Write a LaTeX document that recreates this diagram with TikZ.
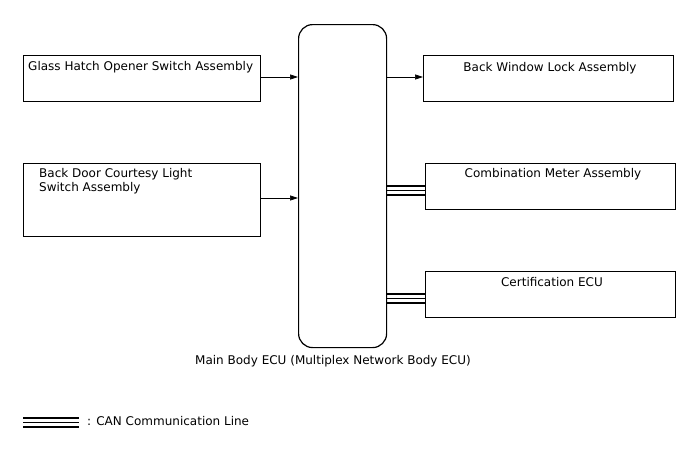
\documentclass[tikz,border=0pt]{standalone}
\usepackage{fontspec}
\setmainfont{DejaVu Sans}
\usetikzlibrary{arrows.meta,calc}
\begin{document}
\begin{tikzpicture}[x=1pt,y=-1pt,
  box/.style={draw,line width=1.2pt,rectangle,inner sep=0pt,anchor=north west},
  lbl/.style={inner sep=0pt,font=\fontsize{12}{14}\selectfont,align=left},
  sig/.style={line width=0.7pt,-{Triangle[length=8pt,width=5pt]}},
  canthick/.style={line width=2pt},
  canthin/.style={line width=1pt}]
\useasboundingbox (0,0) rectangle (688,463);
% ECU
\node[box,rounded corners=14pt,minimum width=88pt,minimum height=323pt] (ecu) at (298,24) {};
% left boxes
\node[box,minimum width=237pt,minimum height=46pt] (glass) at (23,55) {};
\node[lbl,anchor=west] (glasst) at (28,67) {Glass Hatch Opener Switch Assembly};
\node[box,minimum width=237pt,minimum height=73pt] (door) at (23,163) {};
\node[lbl,anchor=north west] (doort) at (39,168) {Back Door Courtesy Light\\Switch Assembly};
% right boxes
\node[box,minimum width=250pt,minimum height=46pt] (win) at (423,55) {};
\node[lbl] (wint) at (550,68) {Back Window Lock Assembly};
\node[box,minimum width=250pt,minimum height=46pt] (comb) at (425,163) {};
\node[lbl] (combt) at (553,174) {Combination Meter Assembly};
\node[box,minimum width=250pt,minimum height=46pt] (cert) at (425,271) {};
\node[lbl] (certt) at (552,282) {Certification ECU};
% arrows
\coordinate (y1) at (0,77);
\coordinate (y2) at (0,198);
\draw[sig] (glass.east |- y1) -- (ecu.west |- y1);
\draw[sig] (door.east |- y2) -- (ecu.west |- y2);
\draw[sig] (ecu.east |- y1) -- (win.west |- y1);
% CAN lines
\foreach \n/\b in {comb/186,cert/293.5}{
  \coordinate (a) at (0,\b);
  \coordinate (b) at (0,\b+4.5);
  \coordinate (c) at (0,\b+9);
  \draw[canthick] (ecu.east |- a) -- (\n.west |- a);
  \draw[canthin] (ecu.east |- b) -- (\n.west |- b);
  \draw[canthick] (ecu.east |- c) -- (\n.west |- c);
}
\node[lbl] (ecut) at (333,361) {Main Body ECU (Multiplex Network Body ECU)};
% legend
\coordinate (la) at (23,417.5);
\coordinate (lb) at (79,417.5);
\draw[canthick] (la) -- (lb);
\draw[canthin] ($(la)+(0,4.5)$) -- ($(lb)+(0,4.5)$);
\draw[canthick] ($(la)+(0,9)$) -- ($(lb)+(0,9)$);
\node[lbl,anchor=west] (legt) at (87,421) {: CAN Communication Line};
\end{tikzpicture}
\end{document}
